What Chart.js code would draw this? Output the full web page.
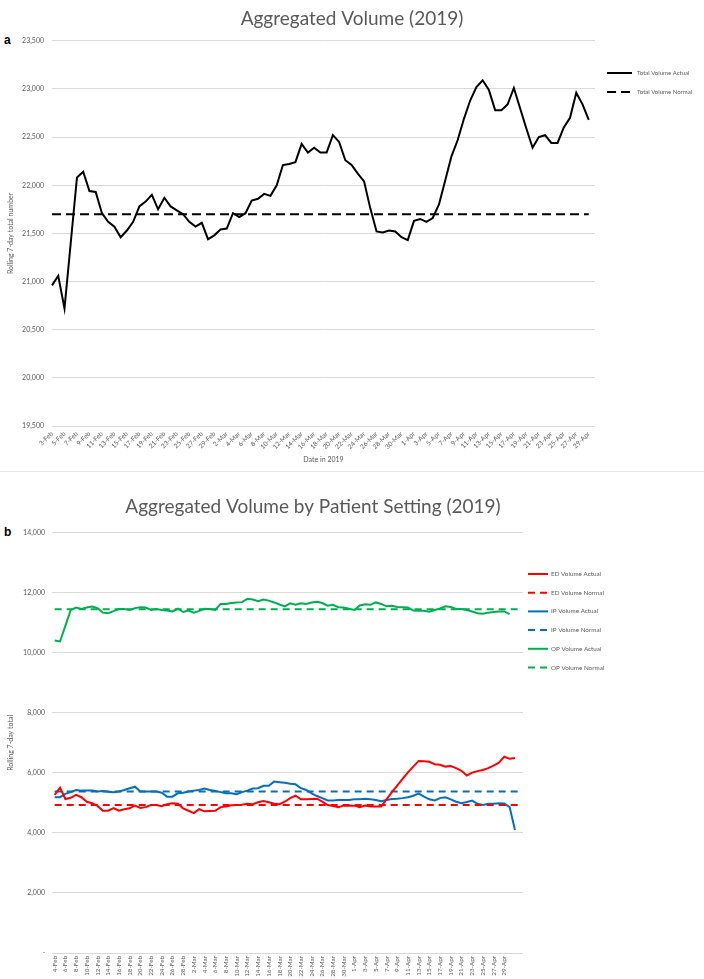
<!DOCTYPE html>
<html>
<head>
<meta charset="utf-8">
<script src="https://cdn.jsdelivr.net/npm/chart.js@4.4.0/dist/chart.umd.min.js"></script>
<style>
  html, body { margin: 0; padding: 0; background: #fff; }
  body { width: 704px; height: 979px; position: relative; overflow: hidden; }
  #boxA { position: absolute; left: 0; top: 0; }
  #boxB { position: absolute; left: 0; top: 472px; }
  .sep { position: absolute; left: 0; top: 471px; width: 704px; height: 1px; background: #e4e4e4; }
  .panel { position: absolute; left: 4px; font: bold 12px "Liberation Sans", Arial, sans-serif; color: #000; }
</style>
</head>
<body>
<div class="panel" style="top:33px">a</div>
<div class="panel" style="top:525px">b</div>
<div class="sep"></div>
<div id="boxA"><canvas id="chartA" width="704" height="470"></canvas></div>
<div id="boxB"><canvas id="chartB" width="626" height="507"></canvas></div>
<script>
// ---- chart a : total volume ----
var daysA = [
  '3-Feb','4-Feb','5-Feb','6-Feb','7-Feb','8-Feb','9-Feb','10-Feb','11-Feb','12-Feb','13-Feb','14-Feb','15-Feb','16-Feb',
  '17-Feb','18-Feb','19-Feb','20-Feb','21-Feb','22-Feb','23-Feb','24-Feb','25-Feb','26-Feb','27-Feb','28-Feb','29-Feb',
  '1-Mar','2-Mar','3-Mar','4-Mar','5-Mar','6-Mar','7-Mar','8-Mar','9-Mar','10-Mar','11-Mar','12-Mar','13-Mar','14-Mar',
  '15-Mar','16-Mar','17-Mar','18-Mar','19-Mar','20-Mar','21-Mar','22-Mar','23-Mar','24-Mar','25-Mar','26-Mar','27-Mar',
  '28-Mar','29-Mar','30-Mar','31-Mar',
  '1-Apr','2-Apr','3-Apr','4-Apr','5-Apr','6-Apr','7-Apr','8-Apr','9-Apr','10-Apr','11-Apr','12-Apr','13-Apr','14-Apr',
  '15-Apr','16-Apr','17-Apr','18-Apr','19-Apr','20-Apr','21-Apr','22-Apr','23-Apr','24-Apr','25-Apr','26-Apr','27-Apr',
  '28-Apr','29-Apr','30-Apr'
];
var totalActual = [
  20960, 21060, 20720, 21400, 22080, 22140, 21940, 21930, 21710, 21620, 21570, 21460, 21530, 21620,
  21780, 21830, 21900, 21750, 21870, 21780, 21740, 21700, 21620, 21570, 21610, 21440, 21480,
  21540, 21550, 21710, 21670, 21710, 21840, 21860, 21910, 21890, 22000, 22210, 22220, 22240, 22430,
  22340, 22390, 22340, 22340, 22520, 22450, 22260, 22210, 22120, 22040, 21760, 21520, 21510,
  21530, 21520, 21460, 21430,
  21630, 21650, 21620, 21660, 21800, 22050, 22300, 22470, 22690, 22880, 23020, 23090, 22990, 22780,
  22780, 22840, 23010, 22800, 22590, 22390, 22500, 22520, 22440, 22440, 22600, 22700, 22960,
  22840, 22680, null
];
var totalNormal = 21700;
var ticksA = [19500, 20000, 20500, 21000, 21500, 22000, 22500, 23000, 23500];

// ---- chart b : by patient setting ----
var daysB = [
  '4-Feb','5-Feb','6-Feb','7-Feb','8-Feb','9-Feb','10-Feb','11-Feb','12-Feb','13-Feb','14-Feb','15-Feb','16-Feb',
  '17-Feb','18-Feb','19-Feb','20-Feb','21-Feb','22-Feb','23-Feb','24-Feb','25-Feb','26-Feb','27-Feb','28-Feb',
  '1-Mar','2-Mar','3-Mar','4-Mar','5-Mar','6-Mar','7-Mar','8-Mar','9-Mar','10-Mar','11-Mar','12-Mar','13-Mar','14-Mar',
  '15-Mar','16-Mar','17-Mar','18-Mar','19-Mar','20-Mar','21-Mar','22-Mar','23-Mar','24-Mar','25-Mar','26-Mar','27-Mar',
  '28-Mar','29-Mar','30-Mar','31-Mar',
  '1-Apr','2-Apr','3-Apr','4-Apr','5-Apr','6-Apr','7-Apr','8-Apr','9-Apr','10-Apr','11-Apr','12-Apr','13-Apr','14-Apr',
  '15-Apr','16-Apr','17-Apr','18-Apr','19-Apr','20-Apr','21-Apr','22-Apr','23-Apr','24-Apr','25-Apr','26-Apr','27-Apr',
  '28-Apr','29-Apr','30-Apr','1-May','2-May'
];
var edActual = [
  5270, 5510, 5130, 5170, 5270, 5190, 5040, 4990, 4900, 4740, 4740, 4830, 4740,
  4790, 4820, 4910, 4830, 4860, 4930, 4930, 4890, 4960, 4990, 4970, 4820,
  4740, 4660, 4790, 4720, 4730, 4740, 4860, 4880, 4920, 4930, 4940, 4970, 4960, 5020,
  5060, 5020, 4970, 4960, 5040, 5160, 5240, 5120, 5120, 5130, 5140, 5040, 4930,
  4900, 4860, 4910, 4910,
  4910, 4860, 4910, 4880, 4880, 4880, 5120, 5360, 5580, 5800, 6020, 6210, 6400, 6390,
  6370, 6290, 6270, 6210, 6230, 6160, 6070, 5910, 6010, 6060, 6100, 6160, 6240,
  6340, 6540, 6470, 6500, null
];
var ipActual = [
  5190, 5190, 5300, 5360, 5430, 5410, 5410, 5410, 5380, 5400, 5370, 5360, 5380,
  5430, 5490, 5540, 5380, 5380, 5380, 5380, 5340, 5210, 5210, 5320, 5340,
  5380, 5410, 5430, 5480, 5430, 5400, 5360, 5320, 5320, 5290, 5360, 5410, 5480, 5490,
  5570, 5570, 5710, 5690, 5670, 5640, 5620, 5490, 5430, 5320, 5230, 5160, 5080,
  5080, 5100, 5100, 5100,
  5120, 5120, 5140, 5120, 5100, 5060, 5100, 5130, 5140, 5160, 5190, 5240, 5310, 5210,
  5120, 5080, 5160, 5190, 5120, 5040, 4990, 5030, 5080, 4970, 4930, 4970, 4970,
  4990, 4980, 4860, 4100, null
];
var opActual = [
  10410, 10380, 10900, 11430, 11510, 11460, 11510, 11540, 11490, 11340, 11320, 11390, 11460,
  11460, 11430, 11490, 11520, 11510, 11430, 11460, 11430, 11410, 11380, 11470, 11360,
  11410, 11340, 11400, 11470, 11460, 11430, 11630, 11630, 11660, 11680, 11690, 11800, 11780, 11720,
  11780, 11740, 11680, 11610, 11550, 11650, 11600, 11650, 11630, 11680, 11700, 11660, 11570,
  11600, 11520, 11510, 11470,
  11430, 11580, 11620, 11600, 11680, 11630, 11550, 11570, 11530, 11520, 11510, 11410, 11400, 11400,
  11370, 11430, 11480, 11550, 11530, 11460, 11460, 11430, 11380, 11320, 11300, 11340, 11360,
  11380, 11380, 11290, null, null
];
var edNormal = 4930;
var ipNormal = 5380;
var opNormal = 11450;

var grey = '#595959';
var gridGrey = '#d9d9d9';

// legend drawn to the right of the plot, like the excel one
var sideLegend = {
  id: 'sideLegend',
  afterDraw: function (chart, args, o) {
    var ctx = chart.ctx;
    ctx.save();
    ctx.font = o.font;
    ctx.fillStyle = grey;
    ctx.textBaseline = 'middle';
    chart.data.datasets.forEach(function (ds, i) {
      var y = o.y + i * o.step;
      ctx.beginPath();
      ctx.strokeStyle = ds.borderColor;
      ctx.lineWidth = ds.borderWidth;
      ctx.setLineDash(ds.borderDash || []);
      ctx.moveTo(o.x, y);
      ctx.lineTo(o.x + o.len, y);
      ctx.stroke();
      ctx.fillText(ds.label, o.x + o.len + o.gap, y);
    });
    ctx.restore();
  }
};

function everyOther(last) {
  return function (val, i) {
    return (i % 2 === 0 && i <= last) ? this.getLabelForValue(val) : '';
  };
}

// empty axis on the right that only keeps room for the legend
function spacer(w) {
  return {
    type: 'linear', position: 'right', display: true,
    grid: { display: false }, border: { display: false }, ticks: { display: false },
    afterFit: function (s) { s.width = w; }
  };
}

new Chart(document.getElementById('chartA'), {
  type: 'line',
  data: {
    labels: daysA,
    datasets: [{
      label: 'Total Volume Actual',
      data: totalActual,
      borderColor: '#000000',
      borderWidth: 2,
      pointRadius: 0,
      tension: 0
    }, {
      label: 'Total Volume Normal',
      data: [{ x: '3-Feb', y: totalNormal }, { x: '29-Apr', y: totalNormal }],
      borderColor: '#000000',
      borderWidth: 2,
      borderDash: [9, 5],
      pointRadius: 0
    }]
  },
  options: {
    responsive: false,
    animation: false,
    layout: { padding: 0 },
    plugins: {
      legend: { display: false },
      tooltip: { enabled: false },
      title: {
        display: true,
        text: 'Aggregated Volume (2019)',
        color: grey,
        font: { family: 'Lato', size: 19, weight: 'normal' },
        padding: { top: 7, bottom: 11 }
      },
      sideLegend: { x: 607, y: 73, step: 19, len: 25, gap: 5, font: '6px Lato' }
    },
    scales: {
      x: {
        offset: false,
        grid: { display: false, drawTicks: false },
        border: { display: false },
        ticks: {
          autoSkip: false, minRotation: 45, maxRotation: 45, padding: 4,
          color: grey, font: { family: 'Lato', size: 6.5 },
          callback: everyOther(86)
        },
        title: { display: true, text: 'Date in 2019', color: grey, font: { family: 'Lato', size: 7 }, padding: { top: 0, bottom: 6 } },
        afterFit: function (s) { s.height = 44; }
      },
      y: {
        min: 19500, max: 23500,
        grid: { color: gridGrey, drawTicks: false },
        border: { display: false },
        afterBuildTicks: function (s) { s.ticks = ticksA.map(function (v) { return { value: v }; }); },
        ticks: {
          padding: 8, color: grey, font: { family: 'Lato', size: 7 },
          callback: function (v) { return v.toLocaleString('en-US'); }
        },
        title: { display: true, text: 'Rolling 7-day total number', color: grey, font: { family: 'Lato', size: 7 }, padding: { top: 7, bottom: 0 } },
        afterFit: function (s) { s.width = 52; }
      },
      room: spacer(109)
    }
  },
  plugins: [sideLegend]
});

new Chart(document.getElementById('chartB'), {
  type: 'line',
  data: {
    labels: daysB,
    datasets: [{
      label: 'ED Volume Actual', data: edActual,
      borderColor: '#ff0000', borderWidth: 2, pointRadius: 0, tension: 0
    }, {
      label: 'ED Volume Normal', data: [{ x: '4-Feb', y: edNormal }, { x: '2-May', y: edNormal }],
      borderColor: '#ff0000', borderWidth: 2, borderDash: [7, 5], pointRadius: 0
    }, {
      label: 'IP Volume Actual', data: ipActual,
      borderColor: '#0070c0', borderWidth: 2, pointRadius: 0, tension: 0
    }, {
      label: 'IP Volume Normal', data: [{ x: '4-Feb', y: ipNormal }, { x: '2-May', y: ipNormal }],
      borderColor: '#0070c0', borderWidth: 2, borderDash: [7, 5], pointRadius: 0
    }, {
      label: 'OP Volume Actual', data: opActual,
      borderColor: '#00b050', borderWidth: 2, pointRadius: 0, tension: 0
    }, {
      label: 'OP Volume Normal', data: [{ x: '4-Feb', y: opNormal }, { x: '2-May', y: opNormal }],
      borderColor: '#00b050', borderWidth: 2, borderDash: [7, 5], pointRadius: 0
    }]
  },
  options: {
    responsive: false,
    animation: false,
    layout: { padding: 0 },
    plugins: {
      legend: { display: false },
      tooltip: { enabled: false },
      title: {
        display: true,
        text: 'Aggregated Volume by Patient Setting (2019)',
        color: grey,
        font: { family: 'Lato', size: 19, weight: 'normal' },
        padding: { top: 23, bottom: 15 }
      },
      sideLegend: { x: 528, y: 102, step: 18.7, len: 20, gap: 3, font: '6.3px Lato' }
    },
    scales: {
      x: {
        offset: true,
        grid: { display: false, drawTicks: false },
        border: { display: false },
        ticks: {
          autoSkip: false, minRotation: 90, maxRotation: 90, padding: 3,
          color: grey, font: { family: 'Lato', size: 6.3 },
          callback: everyOther(84)
        },
        afterFit: function (s) { s.height = 26; }
      },
      y: {
        min: 0, max: 14000,
        grid: { color: gridGrey, drawTicks: false },
        border: { display: false },
        ticks: {
          stepSize: 2000, padding: 7, color: grey, font: { family: 'Lato', size: 7 },
          callback: function (v) { return v === 0 ? '-' : v.toLocaleString('en-US'); }
        },
        title: { display: true, text: 'Rolling 7-day total', color: grey, font: { family: 'Lato', size: 7 }, padding: { top: 7, bottom: 0 } },
        afterFit: function (s) { s.width = 52; }
      },
      room: spacer(103)
    }
  },
  plugins: [sideLegend]
});
</script>
</body>
</html>
